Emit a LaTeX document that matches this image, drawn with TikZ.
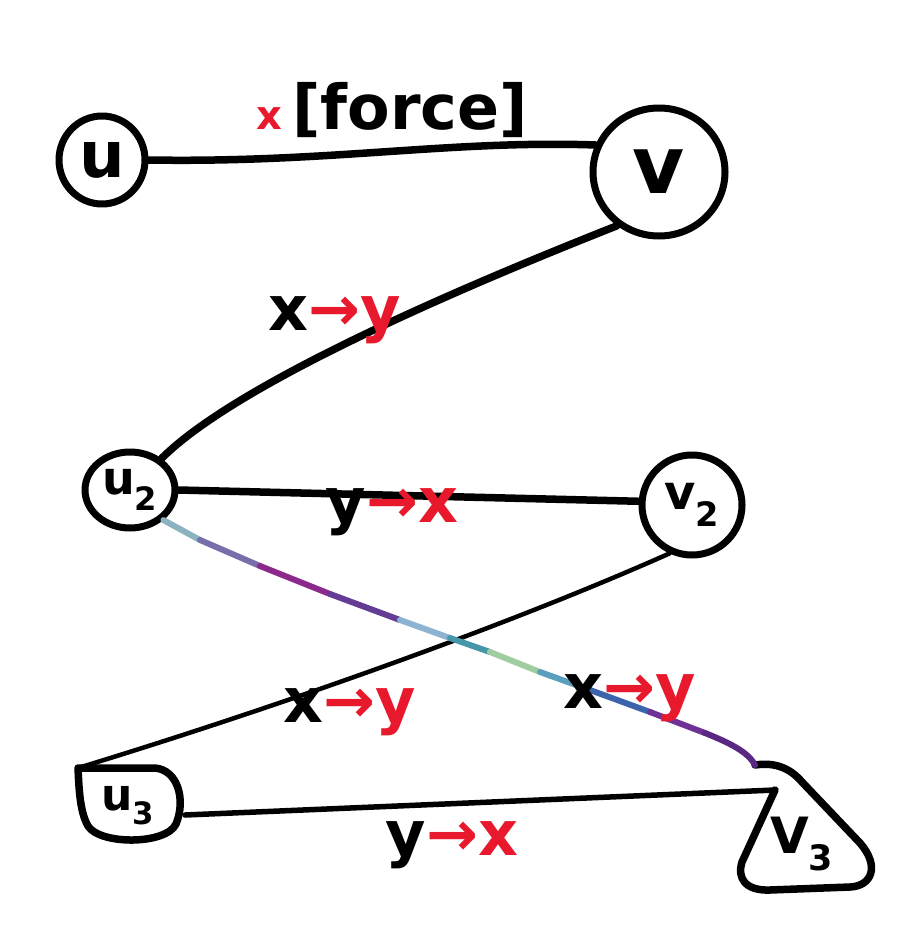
\documentclass[tikz,border=0pt]{standalone}
\usepackage{fontspec}
\setmainfont{DejaVu Sans}
\usetikzlibrary{shapes.geometric}
\definecolor{hred}{HTML}{E8192C}
\definecolor{ga}{RGB}{140,178,192}
\definecolor{gb}{RGB}{120,110,170}
\definecolor{gc}{RGB}{140,40,140}
\definecolor{gd}{RGB}{100,60,150}
\definecolor{ge}{RGB}{140,180,210}
\definecolor{gf}{RGB}{70,150,170}
\definecolor{gg}{RGB}{160,205,160}
\definecolor{gh}{RGB}{90,160,190}
\definecolor{gi}{RGB}{60,100,170}
\definecolor{gj}{RGB}{110,50,150}
\definecolor{gk}{RGB}{90,40,130}
\definecolor{gl}{RGB}{80,40,120}
\begin{document}
\begin{tikzpicture}[x=1pt,y=-1pt, line cap=round, line join=round,
  ink/.style={line width=7.5pt},
  thin ink/.style={line width=4.5pt},
  seg/.style={line width=6pt},
  vtx/.style={ellipse, draw, line width=7pt, inner sep=0pt},
  vtxtext/.style={inner sep=0pt},
  lbl/.style={font=\bfseries\fontsize{62}{62}\selectfont, inner sep=0pt}]
\useasboundingbox (0,0) rectangle (910,939);

% vertices
\node[vtx, minimum width=86pt, minimum height=88pt, font=\bfseries\fontsize{64}{64}\selectfont] (u) at (102,160) {u};
\node[vtx, minimum width=132pt, minimum height=128pt, font=\bfseries\fontsize{80}{80}\selectfont] (v) at (659,172) {v};
\node[vtx, minimum width=90pt, minimum height=76pt, font=\bfseries\fontsize{46}{46}\selectfont] (u2) at (130,490) {u\textsubscript{2}};
\node[vtx, minimum width=100pt, minimum height=100pt, font=\bfseries\fontsize{48}{48}\selectfont] (v2) at (692,505) {v\textsubscript{2}};
\node[vtxtext, font=\bfseries\fontsize{44}{44}\selectfont] (u3) at (128,806) {u\textsubscript{3}};
\node[vtxtext, font=\bfseries\fontsize{50}{50}\selectfont] (v3) at (802,844) {V\textsubscript{3}};

% custom outlines of u3 and v3
\coordinate (u3nw) at (78,768);
\coordinate (u3e) at (185,815);
\draw[ink] (u3nw) -- (155,768) .. controls (178,770) and (186,800) .. (176,824)
  .. controls (166,845) and (100,845) .. (88,826) .. controls (80,812) and (79,790) .. (u3nw);
\coordinate (v3top) at (755,765);
\coordinate (v3w) at (775,790);
\draw[ink] (v3top) .. controls (775,762) and (790,768) .. (802,782) -- (860,843)
  .. controls (880,866) and (872,886) .. (850,887) -- (770,890)
  .. controls (745,891) and (737,878) .. (742,862) -- (v3w);

% edges
\draw[ink] (u.east) .. controls (330,163) and (450,140) .. (v.157);
\draw[ink] (v.232) .. controls (480,280) and (240,380) .. (u2.45);
\draw[ink] (u2.east) -- (v2.176);
\draw[thin ink] (v2.245) .. controls (520,620) and (300,700) .. (u3nw);
\draw[line width=5.5pt] (u3e) -- (v3w);

% multicoloured edge u2 -> v3
\draw[seg, ga] (u2.-42) -- (200,540);
\draw[seg, gb] (200,540) -- (260,566);
\draw[seg, gc] (260,566) -- (330,594);
\draw[seg, gd] (330,594) -- (400,620);
\draw[seg, ge] (400,620) -- (450,638);
\draw[seg, gf] (450,638) -- (490,652);
\draw[seg, gg] (490,652) -- (540,672);
\draw[seg, gh] (540,672) -- (590,690);
\draw[seg, gi] (590,690) -- (650,712);
\draw[seg, gj] (650,712) -- (705,733);
\draw[seg, gk] (705,733) .. controls (730,743) and (748,752) .. (v3top);

% labels
\node[lbl, anchor=base] (l1) at (392,130) {{\fontsize{40}{40}\selectfont\color{hred}x}\,[force]};
\node[lbl, anchor=base] (l2) at (335,330) {x\textcolor{hred}{→y}};
\node[lbl, anchor=base] (l3) at (392,522) {y\textcolor{hred}{→x}};
\node[lbl, anchor=base] (l4) at (350,722) {x\textcolor{hred}{→y}};
\node[lbl, anchor=base] (l5) at (630,708) {x\textcolor{hred}{→y}};
\node[lbl, anchor=base] (l6) at (452,855) {y\textcolor{hred}{→x}};
\end{tikzpicture}
\end{document}
